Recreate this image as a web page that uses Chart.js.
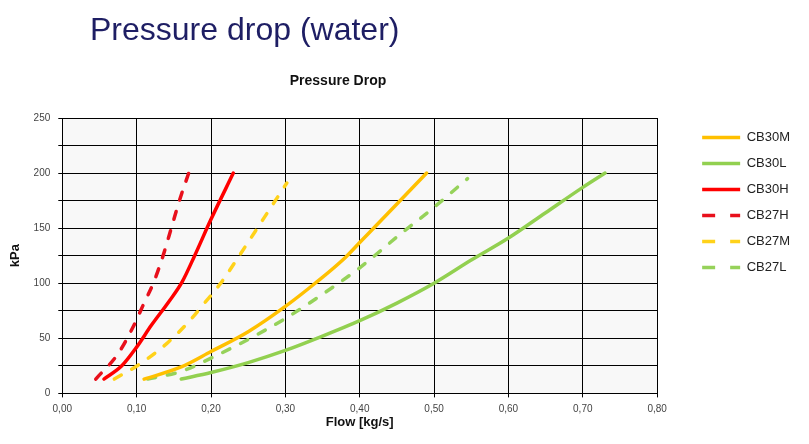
<!DOCTYPE html>
<html>
<head>
<meta charset="utf-8">
<title>Pressure drop (water)</title>
<script src="https://cdn.jsdelivr.net/npm/chart.js@4"></script>
<style>
    html, body { margin: 0; padding: 0; background: #fff; }
    #wrap { position: relative; width: 809px; height: 444px; overflow: hidden; }
    #mainTitle {
        position: absolute; left: 90px; top: 13px;
        font: 32px/1 "Liberation Sans", Arial, sans-serif;
        color: #1e1e64; white-space: nowrap;
    }
    #subTitle {
        position: absolute; left: 238px; width: 200px; top: 73px;
        text-align: center; white-space: nowrap;
        font: bold 14px/1 "Liberation Sans", Arial, sans-serif;
        color: #111;
    }
    #pressureChart { position: absolute; left: 0; top: 0; }
</style>
</head>
<body>
<div id="wrap">
    <canvas id="pressureChart" width="809" height="444"></canvas>
    <div id="mainTitle">Pressure drop (water)</div>
    <div id="subTitle">Pressure Drop</div>
</div>
<script>
// Series: flow in kg/s, pressure drop in kPa
const cb30mFlow = [0.11, 0.16, 0.20, 0.25, 0.30, 0.34, 0.38, 0.40, 0.45, 0.49];
const cb30mKpa  = [13, 24, 38, 56, 79, 100, 123, 137, 172, 200];

const cb30lFlow = [0.16, 0.20, 0.25, 0.30, 0.35, 0.40, 0.45, 0.50, 0.55, 0.60, 0.65, 0.70, 0.73];
const cb30lKpa  = [13, 19, 28, 39, 52, 66, 82, 100, 121, 141, 164, 187, 200];

const cb30hFlow = [0.056, 0.08, 0.10, 0.12, 0.143, 0.161, 0.178, 0.20, 0.23];
const cb30hKpa  = [13, 25, 42, 62, 83, 101, 125, 158, 200];

const cb27hFlow = [0.045, 0.075, 0.095, 0.11, 0.123, 0.136, 0.147, 0.158, 0.17];
const cb27hKpa  = [13, 36, 60, 82, 101, 126, 151, 176, 200];

const cb27mFlow = [0.07, 0.105, 0.14, 0.17, 0.19, 0.213, 0.24, 0.27, 0.302];
const cb27mKpa  = [13, 27, 45, 65, 81, 100, 127, 158, 191];

const cb27lFlow = [0.115, 0.16, 0.20, 0.25, 0.30, 0.35, 0.40, 0.45, 0.50, 0.545];
const cb27lKpa  = [13, 20, 32, 49, 68, 90, 114, 142, 169, 195];

const FONT = '"Liberation Sans", Arial, sans-serif';
const DASH = [8, 12];
const LEGEND_DASH = [13, 15];

function toPoints(flow, kpa) {
    return flow.map((x, i) => ({ x: x, y: kpa[i] }));
}

function series(label, flow, kpa, color, dashed) {
    return {
        label: label,
        data: toPoints(flow, kpa),
        borderColor: color,
        backgroundColor: color,
        borderWidth: 3.5,
        borderCapStyle: 'round',
        borderDash: dashed ? DASH : [],
        pointRadius: 0,
        cubicInterpolationMode: 'monotone',
        fill: false
    };
}

// Light grey plot area like the spreadsheet original
const plotBackground = {
    id: 'plotBackground',
    beforeDraw(chart) {
        const { ctx, chartArea } = chart;
        ctx.save();
        ctx.fillStyle = '#f8f8f8';
        ctx.fillRect(chartArea.left, chartArea.top, chartArea.width, chartArea.height);
        ctx.restore();
    }
};

const ctx = document.getElementById('pressureChart').getContext('2d');

new Chart(ctx, {
    type: 'line',
    data: {
        datasets: [
            series('CB30M', cb30mFlow, cb30mKpa, '#ffc000', false),
            series('CB30L', cb30lFlow, cb30lKpa, '#92d050', false),
            series('CB30H', cb30hFlow, cb30hKpa, '#ff0000', false),
            series('CB27H', cb27hFlow, cb27hKpa, '#e8101c', true),
            series('CB27M', cb27mFlow, cb27mKpa, '#ffd21a', true),
            series('CB27L', cb27lFlow, cb27lKpa, '#96d25a', true)
        ]
    },
    options: {
        responsive: false,
        animation: false,
        layout: {
            padding: { left: 4, right: 9, top: 118, bottom: 14 }
        },
        plugins: {
            legend: {
                display: true,
                position: 'right',
                align: 'start',
                labels: {
                    usePointStyle: true,
                    pointStyle: 'line',
                    pointStyleWidth: 38,
                    padding: 13,
                    color: '#222',
                    font: { family: FONT, size: 13 },
                    // line samples with the dataset's own dash
                    generateLabels: (chart) => chart.data.datasets.map((ds, i) => ({
                        text: ds.label,
                        strokeStyle: ds.borderColor,
                        fillStyle: ds.borderColor,
                        lineWidth: 3.5,
                        lineCap: 'butt',
                        lineDash: ds.borderDash.length ? LEGEND_DASH : [],
                        pointStyle: 'line',
                        fontColor: '#222',
                        hidden: false,
                        datasetIndex: i
                    }))
                }
            },
            title: { display: false },
            tooltip: { enabled: false }
        },
        scales: {
            x: {
                type: 'linear',
                min: 0,
                max: 0.8,
                ticks: {
                    stepSize: 0.1,
                    padding: 7,
                    color: '#444',
                    font: { family: FONT, size: 10, lineHeight: 1 },
                    callback: (v) => v.toFixed(2).replace('.', ',')
                },
                grid: { color: '#000', lineWidth: 1, tickLength: 4 },
                border: { color: '#000' },
                title: {
                    display: true,
                    text: 'Flow [kg/s]',
                    color: '#111',
                    font: { family: FONT, size: 13, weight: 'bold' },
                    // negative inner padding tucks the title close under the tick labels
                    padding: { top: -7, bottom: 0 }
                }
            },
            y: {
                min: 0,
                max: 250,
                ticks: {
                    stepSize: 25,
                    padding: 8,
                    color: '#444',
                    font: { family: FONT, size: 10 },
                    callback: (v) => (v % 50 === 0 ? v : '')
                },
                grid: { color: '#000', lineWidth: 1, tickLength: 4 },
                border: { color: '#000' },
                title: {
                    display: true,
                    text: 'kPa',
                    color: '#111',
                    font: { family: FONT, size: 13, weight: 'bold' },
                    padding: { top: 4, bottom: 2 }
                }
            },
            // empty right-hand axis, only keeps a gap between plot and legend
            gap: {
                type: 'linear',
                position: 'right',
                display: true,
                grid: { display: false },
                border: { display: false },
                ticks: { display: false },
                afterFit: (scale) => { scale.width = 32; }
            }
        }
    },
    plugins: [plotBackground]
});
</script>
</body>
</html>
